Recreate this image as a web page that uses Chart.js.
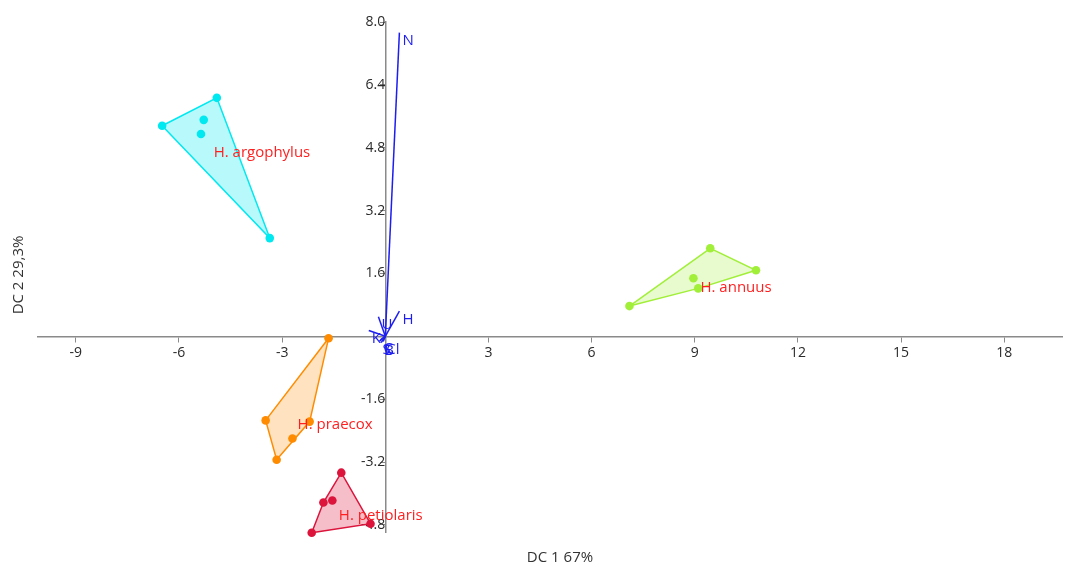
<!DOCTYPE html>
<html>
<head>
<meta charset="utf-8">
<script src="https://cdn.jsdelivr.net/npm/chart.js@4.4.1/dist/chart.umd.min.js"></script>
<style>
html,body{margin:0;padding:0;background:#fff;}
#wrap{width:1067px;height:566px;position:relative;}
</style>
</head>
<body>
<div id="wrap"><canvas id="c" width="1067" height="566"></canvas></div>
<script>
// ---- data ----
const groupNames = ["H. argophylus", "H. annuus", "H. praecox", "H. petiolaris"];
const argX = [-4.90, -6.49, -5.28, -5.36, -3.36];
const argY = [6.07, 5.36, 5.51, 5.15, 2.50];
const annX = [9.45, 10.78, 8.96, 9.10, 7.10];
const annY = [2.24, 1.68, 1.48, 1.22, 0.77];
const praX = [-1.65, -3.48, -2.20, -2.70, -3.16];
const praY = [-0.05, -2.14, -2.17, -2.60, -3.14];
const petX = [-1.28, -1.80, -1.54, -2.14, -0.43];
const petY = [-3.47, -4.23, -4.18, -5.00, -4.77];
const vecNames = ["N", "H", "U", "K", "S", "B", "Cl", "C"];
const vecX = [0.41, 0.41, -0.20, -0.48, -0.17, -0.12, -0.06, -0.14];
const vecY = [7.73, 0.64, 0.50, 0.15, -0.12, -0.16, -0.13, -0.09];
const xTicks = [-9, -6, -3, 3, 6, 9, 12, 15, 18];
const yTicks = [-4.8, -3.2, -1.6, 1.6, 3.2, 4.8, 6.4, 8.0];
const xTitle = "DC 1 67%";
const yTitle = "DC 2 29,3%";

const groupColors = ["#00e8f0", "#a2ef3a", "#ff8c00", "#dc143c"];
const groupFills = ["rgba(0,232,240,0.28)", "rgba(162,239,58,0.25)", "rgba(255,140,0,0.25)", "rgba(220,20,60,0.28)"];
const vecColor = "#1e1ef0";
const FONT = "'Open Sans', 'Noto Sans', sans-serif";

const groups = [[argX, argY], [annX, annY], [praX, praY], [petX, petY]];

function hull(pts) {
  const p = pts.slice().sort((a, b) => a.x - b.x || a.y - b.y);
  const cross = (o, a, b) => (a.x - o.x) * (b.y - o.y) - (a.y - o.y) * (b.x - o.x);
  const lo = [], up = [];
  for (const q of p) { while (lo.length >= 2 && cross(lo[lo.length-2], lo[lo.length-1], q) <= 0) lo.pop(); lo.push(q); }
  for (let i = p.length - 1; i >= 0; i--) { const q = p[i]; while (up.length >= 2 && cross(up[up.length-2], up[up.length-1], q) <= 0) up.pop(); up.push(q); }
  up.pop(); lo.pop();
  const h = lo.concat(up);
  h.push(h[0]);
  return h;
}

const datasets = [];
const centroids = [];
groups.forEach(([gx, gy], i) => {
  const pts = gx.map((x, k) => ({x, y: gy[k]}));
  centroids.push({x: gx.reduce((a, b) => a + b, 0) / gx.length, y: gy.reduce((a, b) => a + b, 0) / gy.length});
  datasets.push({
    type: 'line', data: hull(pts), showLine: true, fill: 'shape',
    borderColor: groupColors[i], backgroundColor: groupFills[i], borderWidth: 1.5,
    pointRadius: 0, tension: 0, clip: false, order: 3
  });
  datasets.push({
    type: 'scatter', data: pts, pointRadius: 4.3, pointHoverRadius: 4.3,
    backgroundColor: groupColors[i], borderColor: groupColors[i], borderWidth: 0, clip: false, order: 2
  });
});
vecNames.forEach((n, i) => {
  datasets.push({
    type: 'line', data: [{x: 0, y: 0}, {x: vecX[i], y: vecY[i]}], showLine: true, fill: false,
    borderColor: vecColor, borderWidth: 1.5, pointRadius: 0, clip: false, order: 1
  });
});

const labelPlugin = {
  id: 'labels',
  afterDatasetsDraw(chart) {
    const ctx = chart.ctx, xs = chart.scales.x, ys = chart.scales.y;
    ctx.save();
    ctx.textBaseline = 'top';
    ctx.textAlign = 'left';
    ctx.font = "15px " + FONT;
    ctx.fillStyle = vecColor;
    vecNames.forEach((n, i) => {
      ctx.fillText(n, xs.getPixelForValue(vecX[i]) + 3, ys.getPixelForValue(vecY[i]) + 1);
    });
    ctx.fillStyle = "#ff1f1f";
    centroids.forEach((c, i) => {
      ctx.fillText(groupNames[i], xs.getPixelForValue(c.x) + 3, ys.getPixelForValue(c.y) + 2);
    });
    ctx.restore();
  },
  afterDraw(chart) {
    const ctx = chart.ctx;
    ctx.save();
    ctx.font = "15px " + FONT;
    ctx.fillStyle = "#333";
    ctx.textAlign = 'center';
    ctx.textBaseline = 'middle';
    ctx.fillText(xTitle, 560, 558);
    ctx.translate(19, 275);
    ctx.rotate(-Math.PI / 2);
    ctx.fillText(yTitle, 0, 0);
    ctx.restore();
  }
};

const axisCommon = {
  type: 'linear',
  grid: {drawOnChartArea: false, drawTicks: true, tickLength: 5, color: '#8a8a8a', lineWidth: 1},
  border: {display: true, color: '#8a8a8a', width: 1.5},
  ticks: {color: '#2a2a2a', font: {family: FONT, size: 14}, padding: 3}
};

new Chart(document.getElementById('c'), {
  type: 'scatter',
  data: {datasets},
  plugins: [labelPlugin],
  options: {
    responsive: false,
    animation: false,
    devicePixelRatio: 1,
    layout: {padding: {left: 38, right: -4, top: 22, bottom: 34}},
    plugins: {legend: {display: false}, tooltip: {enabled: false}},
    scales: {
      x: Object.assign({}, axisCommon, {
        min: -10.1, max: 19.7, position: {y: 0},
        afterBuildTicks: s => { s.ticks = xTicks.map(v => ({value: v})); },
        afterFit: s => { s.height = 0; s.paddingLeft = 0; s.paddingRight = 0; },
        ticks: Object.assign({}, axisCommon.ticks, {callback: v => String(v)})
      }),
      y: Object.assign({}, axisCommon, {
        min: -4.98, max: 8.0, position: {x: 0},
        afterBuildTicks: s => { s.ticks = yTicks.map(v => ({value: v})); },
        afterFit: s => { s.width = 0; s.paddingTop = 0; s.paddingBottom = 0; },
        ticks: Object.assign({}, axisCommon.ticks, {callback: v => v.toFixed(1)})
      })
    }
  }
});
</script>
</body>
</html>
